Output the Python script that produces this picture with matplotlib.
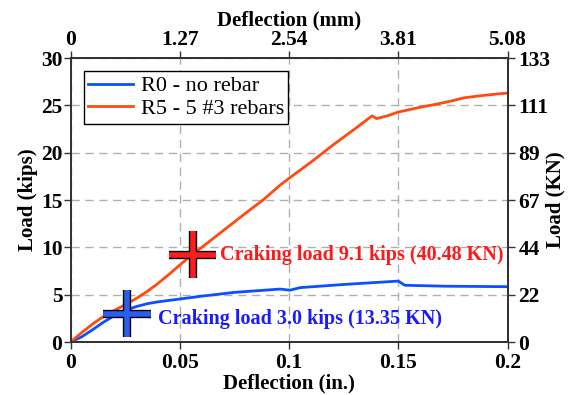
import matplotlib
matplotlib.use("Agg")
import matplotlib.pyplot as plt
import matplotlib.patheffects as pe

plt.rcParams['font.family'] = ['Liberation Serif', 'DejaVu Serif']

# R5 - 5 #3 rebars (deflection in., load kips)
r5_defl = [0, 0.005, 0.01, 0.015, 0.02, 0.025, 0.03, 0.035, 0.04, 0.045, 0.05,
           0.056, 0.06, 0.07, 0.08, 0.088, 0.096, 0.1, 0.11, 0.12, 0.13, 0.138,
           0.140, 0.145, 0.15, 0.16, 0.169, 0.175, 0.18, 0.187, 0.195, 0.2]
r5_load = [0, 1.0, 1.9, 2.7, 3.35, 3.95, 4.6, 5.35, 6.2, 7.15, 8.15,
           9.3, 10.0, 11.8, 13.6, 15.0, 16.6, 17.3, 19.0, 20.8, 22.5, 23.9,
           23.6, 23.9, 24.3, 24.8, 25.2, 25.5, 25.8, 26.0, 26.2, 26.3]

# R0 - no rebar
r0_defl = [0, 0.005, 0.01, 0.015, 0.02, 0.025, 0.03, 0.035, 0.04, 0.05, 0.06,
           0.075, 0.09, 0.0958, 0.1004, 0.105, 0.126, 0.150, 0.153, 0.172, 0.2]
r0_load = [0, 0.55, 1.3, 2.1, 2.8, 3.35, 3.75, 4.05, 4.25, 4.55, 4.85,
           5.25, 5.5, 5.6, 5.48, 5.75, 6.1, 6.44, 6.0, 5.9, 5.85]

# cracking points
crack_defl = [0.0258, 0.0558]
crack_load = [3.0, 9.25]
crack_text = ['Craking load 3.0 kips (13.35 KN)', 'Craking load 9.1 kips (40.48 KN)']

x_ticks = [0, 0.05, 0.1, 0.15, 0.2]
x_ticklabels = ['0', '0.05', '0.1', '0.15', '0.2']
mm_ticklabels = ['0', '1.27', '2.54', '3.81', '5.08']
y_ticks = [0, 5, 10, 15, 20, 25, 30]
kn_ticklabels = ['0', '22', '44', '67', '89', '111', '133']

blue = '#0a50ff'
red = '#ff4a10'

fig = plt.figure(figsize=(5.68, 3.95), dpi=100)
ax = fig.add_axes([0.1245, 0.134, 0.769, 0.719])

ax.plot(r0_defl, r0_load, color=blue, lw=2, label='R0 - no rebar', zorder=3)
ax.plot(r5_defl, r5_load, color=red, lw=2, label='R5 - 5 #3 rebars', zorder=3)

outline = [pe.Stroke(linewidth=6, foreground='black'), pe.Normal()]
ax.plot(crack_defl[0], crack_load[0], marker='+', ms=34, mew=4, color='#2a5ef0',
        path_effects=outline, zorder=5)
ax.plot(crack_defl[1], crack_load[1], marker='+', ms=34, mew=4, color='#ff1c1c',
        path_effects=outline, zorder=5)

ax.annotate(crack_text[0], (crack_defl[0], crack_load[0]), xytext=(22, -4),
            textcoords='offset points', color='#1a1aff', fontsize=14.5,
            fontweight='bold', va='center', ha='left')
ax.annotate(crack_text[1], (crack_defl[1], crack_load[1]), xytext=(20, 0),
            textcoords='offset points', color='#ff1a1a', fontsize=14.5,
            fontweight='bold', va='center', ha='left')

ax.set_xlim(0, 0.2)
ax.set_ylim(0, 30)
ax.set_xticks(x_ticks)
ax.set_xticklabels(x_ticklabels)
ax.set_yticks(y_ticks)
ax.grid(True, color='#b0b0b0', ls=(0, (6, 4)), lw=1)
ax.set_xlabel('Deflection (in.)', fontsize=15, fontweight='bold', labelpad=0)
ax.set_ylabel('Load (kips)', fontsize=15, fontweight='bold', labelpad=2)

leg = ax.legend(loc='upper left', fontsize=16, fancybox=False, framealpha=1,
                edgecolor='black', handlelength=2.0, borderpad=0.2,
                labelspacing=0.1, handletextpad=0.35, borderaxespad=0.6)
leg.get_frame().set_linewidth(1)

axr = ax.twinx()
axr.set_ylim(0, 30)
axr.set_yticks(y_ticks)
axr.set_yticklabels(kn_ticklabels)
axr.set_ylabel('Load (KN)', fontsize=15, fontweight='bold')
axr.yaxis.set_label_coords(1.088, 0.5)

axt = ax.twiny()
axt.set_xlim(0, 0.2)
axt.set_xticks(x_ticks)
axt.set_xticklabels(mm_ticklabels)
axt.set_xlabel('Deflection (mm)', fontsize=15, fontweight='bold', labelpad=3)

for a in (ax, axr, axt):
    a.tick_params(labelsize=15.5, length=5, width=1, color='#333333', pad=1)
    for lab in a.get_xticklabels() + a.get_yticklabels():
        lab.set_fontweight('bold')
    for s in a.spines.values():
        s.set_color('#333333')
        s.set_linewidth(1.2)
axr.tick_params(pad=3)
ax.tick_params(axis='x', pad=3)

fig.savefig('out.png', dpi=100)
